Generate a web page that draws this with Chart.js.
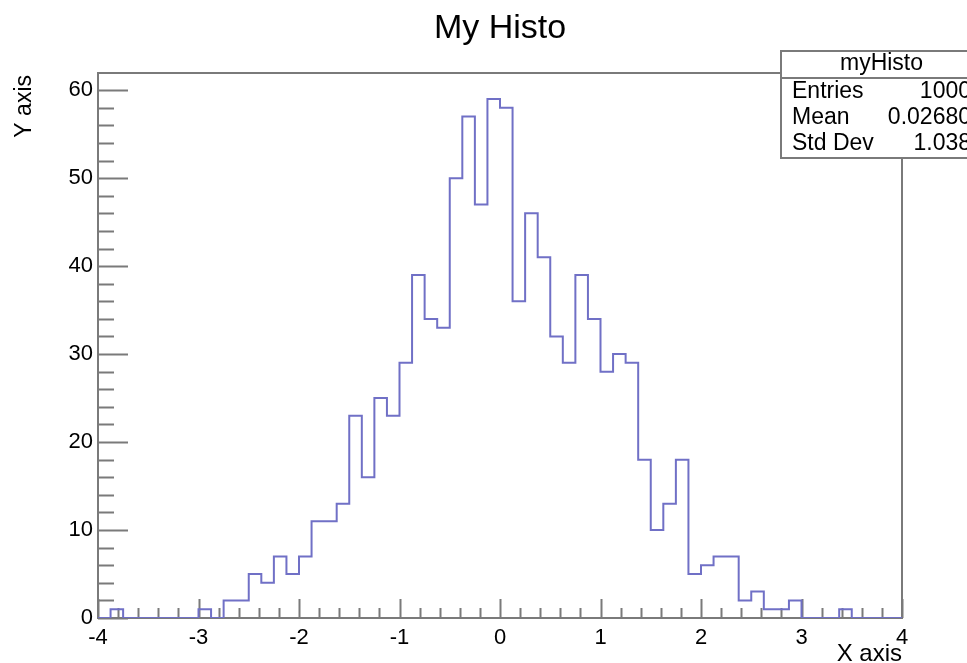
<!DOCTYPE html>
<html>
<head>
<meta charset="utf-8">
<title>My Histo</title>
<script src="https://cdn.jsdelivr.net/npm/chart.js@4/dist/chart.umd.min.js"></script>
<style>
  html, body { margin: 0; padding: 0; background: #ffffff; }
  canvas { display: block; }
</style>
</head>
<body>
<canvas id="histo" width="967" height="663"></canvas>
<script>
// ── Histogram data (64 bins from -4 to 4) ────────────────────────────────
const X_MIN = -4;
const X_MAX = 4;
const BIN_COUNTS = [
  0, 1, 0, 0, 0, 0, 0, 0,
  1, 0, 2, 2, 5, 4, 7, 5,
  7, 11, 11, 13, 23, 16, 25, 23,
  29, 39, 34, 33, 50, 57, 47, 59,
  58, 36, 46, 41, 32, 29, 39, 34,
  28, 30, 29, 18, 10, 13, 18, 5,
  6, 7, 7, 2, 3, 1, 1, 2,
  0, 0, 0, 1, 0, 0, 0, 0,
];
const Y_MAX = 61.95; // ROOT : max bin * 1.05

const X_TICKS = [-4, -3, -2, -1, 0, 1, 2, 3, 4];
const X_MINOR_STEP = 0.2;
const Y_TICKS = [0, 10, 20, 30, 40, 50, 60];
const Y_MINOR_STEP = 2;

const TITLE = 'My Histo';
const X_TITLE = 'X axis';
const Y_TITLE = 'Y axis';
const STATS_NAME = 'myHisto';
const STATS_LABELS = ['Entries', 'Mean', 'Std Dev'];
const STATS_VALUES = ['1000', '0.02680', '1.038'];

const FONT = '"Liberation Sans", Arial, Helvetica, sans-serif';
const FRAME_COLOR = '#7a7a7a';
const LINE_COLOR = '#7070c6';

// Bord gauche de chaque bin, plus le bord final pour fermer le dernier palier
const binWidth = (X_MAX - X_MIN) / BIN_COUNTS.length;
const points = BIN_COUNTS.map((c, i) => ({ x: X_MIN + i * binWidth, y: c }));
points.push({ x: X_MAX, y: BIN_COUNTS[BIN_COUNTS.length - 1] });

// ── Style ROOT : cadre, ticks intérieurs, titres, boîte de stats ─────────
const rootFrame = {
  id: 'rootFrame',
  beforeDatasetsDraw(chart) {
    const { ctx, chartArea: a, scales } = chart;
    ctx.save();
    ctx.strokeStyle = FRAME_COLOR;
    ctx.lineWidth = 2;
    ctx.strokeRect(a.left, a.top, a.right - a.left, a.bottom - a.top);

    ctx.beginPath();
    // ticks X (vers le haut depuis le bas)
    for (let v = X_MIN; v <= X_MAX + 1e-9; v += X_MINOR_STEP) {
      const px = Math.round(scales.x.getPixelForValue(v)) + 0.5;
      const major = X_TICKS.some(t => Math.abs(t - v) < 1e-6);
      ctx.moveTo(px, a.bottom);
      ctx.lineTo(px, a.bottom - (major ? 19 : 10));
    }
    // ticks Y (vers la droite depuis la gauche)
    for (let v = 0; v <= Y_MAX; v += Y_MINOR_STEP) {
      const py = Math.round(scales.y.getPixelForValue(v)) + 0.5;
      const major = Y_TICKS.includes(v);
      ctx.moveTo(a.left, py);
      ctx.lineTo(a.left + (major ? 30 : 16), py);
    }
    ctx.stroke();
    ctx.restore();
  },
  afterDraw(chart) {
    const { ctx, chartArea: a, scales } = chart;
    ctx.save();
    ctx.fillStyle = '#000000';

    // Labels des ticks
    ctx.font = '22px ' + FONT;
    ctx.textAlign = 'center';
    ctx.textBaseline = 'alphabetic';
    X_TICKS.forEach(t => {
      ctx.fillText(String(t), scales.x.getPixelForValue(t), a.bottom + 26);
    });
    ctx.textAlign = 'right';
    ctx.textBaseline = 'middle';
    Y_TICKS.forEach(t => {
      ctx.fillText(String(t), a.left - 5, scales.y.getPixelForValue(t));
    });

    // Titres
    ctx.textBaseline = 'alphabetic';
    ctx.textAlign = 'center';
    ctx.font = '34px ' + FONT;
    ctx.fillText(TITLE, (a.left + a.right) / 2, 38);

    ctx.textAlign = 'right';
    ctx.font = '24px ' + FONT;
    ctx.fillText(X_TITLE, a.right, 661);

    ctx.save();
    ctx.translate(31, a.top + 2);
    ctx.rotate(-Math.PI / 2);
    ctx.font = '23px ' + FONT;
    ctx.textAlign = 'right';
    ctx.fillText(Y_TITLE, 0, 0);
    ctx.restore();

    // Boîte de stats (débordant à droite comme dans ROOT)
    const bx = 781, by = 51, bw = 201, bh = 107, hh = 27;
    ctx.fillStyle = '#ffffff';
    ctx.fillRect(bx, by, bw, bh);
    ctx.strokeStyle = FRAME_COLOR;
    ctx.lineWidth = 2;
    ctx.strokeRect(bx, by, bw, bh);
    ctx.beginPath();
    ctx.moveTo(bx, by + hh);
    ctx.lineTo(bx + bw, by + hh);
    ctx.stroke();

    ctx.fillStyle = '#000000';
    ctx.font = '23px ' + FONT;
    ctx.textAlign = 'center';
    ctx.fillText(STATS_NAME, bx + bw / 2, by + 19);
    STATS_LABELS.forEach((lab, i) => {
      const yb = by + 47 + i * 26;
      ctx.textAlign = 'left';
      ctx.fillText(lab, bx + 11, yb);
      ctx.textAlign = 'right';
      ctx.fillText(STATS_VALUES[i], bx + bw - 11, yb);
    });

    ctx.restore();
  },
};

new Chart(document.getElementById('histo'), {
  type: 'line',
  plugins: [rootFrame],
  data: {
    datasets: [
      {
        label: STATS_NAME,
        data: points,
        stepped: true,
        borderColor: LINE_COLOR,
        borderWidth: 2,
        pointRadius: 0,
        fill: false,
        tension: 0,
      },
    ],
  },
  options: {
    animation: false,
    responsive: false,
    devicePixelRatio: 1,
    layout: { padding: { left: 98, top: 73, right: 65, bottom: 45 } },
    plugins: {
      legend: { display: false },
      tooltip: { enabled: false },
      title: { display: false },
    },
    scales: {
      x: { type: 'linear', min: X_MIN, max: X_MAX, display: false },
      y: { type: 'linear', min: 0, max: Y_MAX, display: false },
    },
  },
});
</script>
</body>
</html>
